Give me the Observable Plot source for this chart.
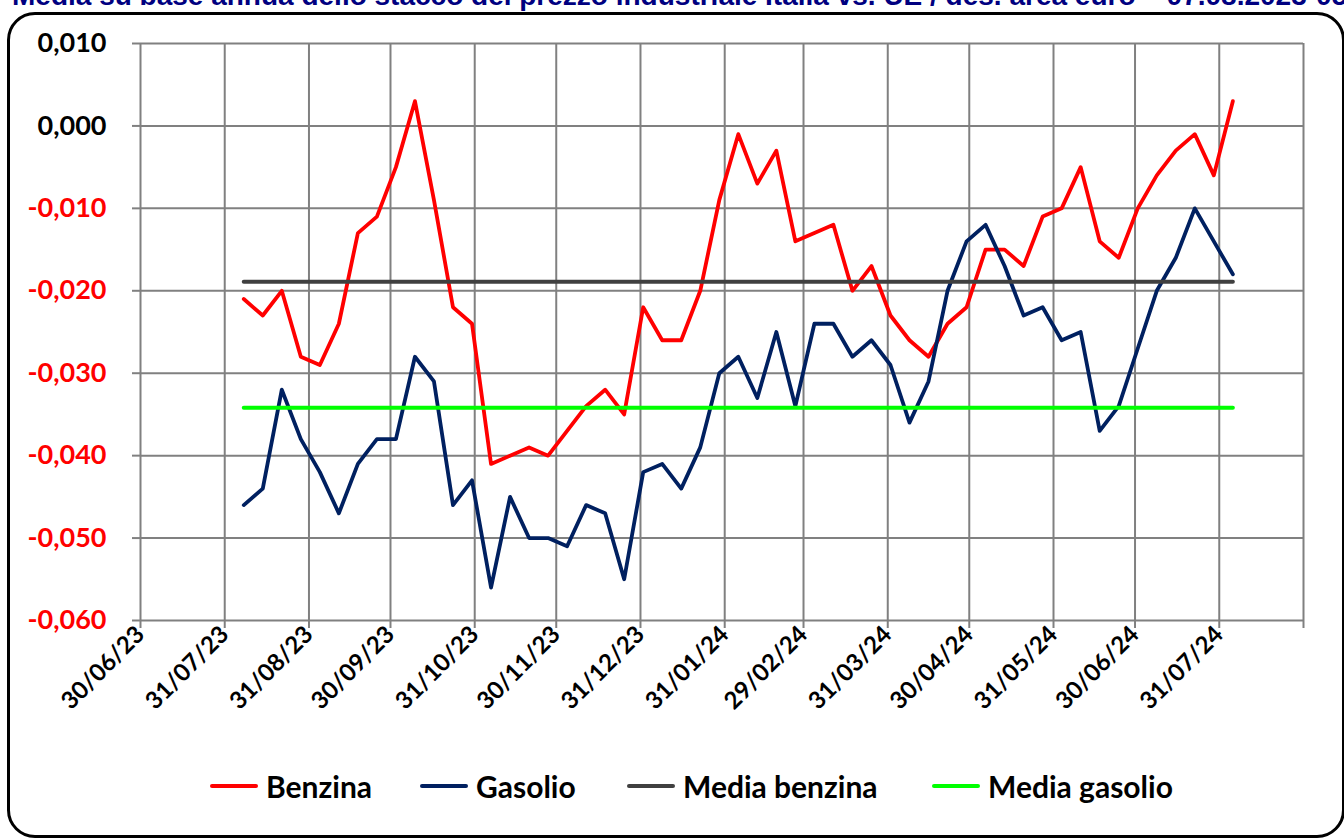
<!DOCTYPE html>
<html>
<head>
<meta charset="utf-8">
<script src="https://cdn.jsdelivr.net/npm/d3@7"></script>
<script src="https://cdn.jsdelivr.net/npm/@observablehq/plot@0.6"></script>
<style>
  html, body { margin: 0; padding: 0; background: #fff; }
  body { width: 1344px; height: 840px; overflow: hidden; position: relative; }
  #title { position: absolute; left: 12px; top: -18px; white-space: nowrap; font: bold 28px "Liberation Sans", Arial, sans-serif; color: #000080; line-height: 28px; }
  #frame { position: absolute; left: 7px; top: 12px; width: 1338px; height: 826px; border: 3px solid #000; border-radius: 28px; box-sizing: border-box; }
  #chart { position: absolute; left: 0; top: 0; }
  .item { position: absolute; top: 767px; height: 38px; display: flex; align-items: center; font: bold 30px Lato, sans-serif; color: #000; white-space: nowrap; }
  .sw { display: inline-block; width: 48px; height: 4px; margin-right: 8px; border-radius: 2px; }
</style>
</head>
<body>
<div id="title">Media su base annua dello stacco del prezzo industriale Italia vs. UE / des. area euro – 07.08.2023-05.08.2024</div>
<div id="frame"></div>
<div id="chart"></div>
<div id="legend"></div>
<script>
const dates = [
  "2023-08-07","2023-08-14","2023-08-21","2023-08-28","2023-09-04","2023-09-11","2023-09-18","2023-09-25",
  "2023-10-02","2023-10-09","2023-10-16","2023-10-23","2023-10-30","2023-11-06","2023-11-13","2023-11-20",
  "2023-11-27","2023-12-04","2023-12-11","2023-12-18","2023-12-25","2024-01-01","2024-01-08","2024-01-15",
  "2024-01-22","2024-01-29","2024-02-05","2024-02-12","2024-02-19","2024-02-26","2024-03-04","2024-03-11",
  "2024-03-18","2024-03-25","2024-04-01","2024-04-08","2024-04-15","2024-04-22","2024-04-29","2024-05-06",
  "2024-05-13","2024-05-20","2024-05-27","2024-06-03","2024-06-10","2024-06-17","2024-06-24","2024-07-01",
  "2024-07-08","2024-07-15","2024-07-22","2024-07-29","2024-08-05"
];
const benzina = [
  -0.021,-0.023,-0.020,-0.028,-0.029,-0.024,-0.013,-0.011,-0.005,0.003,
  -0.009,-0.022,-0.024,-0.041,-0.040,-0.039,-0.040,-0.037,-0.034,-0.032,
  -0.035,-0.022,-0.026,-0.026,-0.020,-0.009,-0.001,-0.007,-0.003,-0.014,
  -0.013,-0.012,-0.020,-0.017,-0.023,-0.026,-0.028,-0.024,-0.022,-0.015,
  -0.015,-0.017,-0.011,-0.010,-0.005,-0.014,-0.016,-0.010,-0.006,-0.003,
  -0.001,-0.006,0.003
];
const gasolio = [
  -0.046,-0.044,-0.032,-0.038,-0.042,-0.047,-0.041,-0.038,-0.038,-0.028,
  -0.031,-0.046,-0.043,-0.056,-0.045,-0.050,-0.050,-0.051,-0.046,-0.047,
  -0.055,-0.042,-0.041,-0.044,-0.039,-0.030,-0.028,-0.033,-0.025,-0.034,
  -0.024,-0.024,-0.028,-0.026,-0.029,-0.036,-0.031,-0.020,-0.014,-0.012,
  -0.017,-0.023,-0.022,-0.026,-0.025,-0.037,-0.034,-0.027,-0.020,-0.016,
  -0.010,-0.014,-0.018
];
const mediaBenzina = -0.0189;
const mediaGasolio = -0.0342;
const xTickDates = [
  "2023-06-30","2023-07-31","2023-08-31","2023-09-30","2023-10-31","2023-11-30","2023-12-31",
  "2024-01-31","2024-02-29","2024-03-31","2024-04-30","2024-05-31","2024-06-30","2024-07-31","2024-08-31"
];
const xLabelled = xTickDates.slice(0, 14);
const yTicks = [0.01, 0, -0.01, -0.02, -0.03, -0.04, -0.05, -0.06];
const seriesNames = ["Benzina", "Gasolio", "Media benzina", "Media gasolio"];
const seriesColors = ["#ff0000", "#002060", "#404040", "#00ff00"];

const rows = dates.map((d, i) => ({date: new Date(d), benzina: benzina[i], gasolio: gasolio[i]}));
const xTicks = xTickDates.map(d => new Date(d));
const labelledSet = new Set(xLabelled);
const fmtDate = d3.utcFormat("%d/%m/%y");
const isoDate = d3.utcFormat("%Y-%m-%d");
const fmtY = d => d3.format(".3f")(d).replace("−", "-").replace(".", ",");

const chart = Plot.plot({
  width: 1344,
  height: 720,
  marginLeft: 140,
  marginRight: 41,
  marginTop: 43,
  marginBottom: 100,
  style: {fontFamily: "Lato, sans-serif", fontWeight: "bold", color: "#000", background: "transparent", fontSize: "26px"},
  x: {type: "utc", domain: [xTicks[0], xTicks[xTicks.length - 1]]},
  y: {domain: [-0.06, 0.01]},
  color: {type: "identity"},
  marks: [
    Plot.gridX(xTicks, {stroke: "#808080", strokeOpacity: 1, strokeWidth: 2}),
    Plot.gridY(yTicks, {stroke: "#808080", strokeOpacity: 1, strokeWidth: 2}),
    Plot.axisY(yTicks, {tickSize: 8, tickPadding: 26, stroke: "#808080", strokeWidth: 2, tickFormat: fmtY,
      fill: d => d < 0 ? "#ff0000" : "#000000", fontSize: 27, label: null}),
    Plot.axisX(xTicks, {tickSize: 8, tickPadding: 2, stroke: "#808080", strokeWidth: 2, tickRotate: -45,
      tickFormat: d => labelledSet.has(isoDate(d)) ? fmtDate(d) : "", fontSize: 24, label: null}),
    Plot.lineY(rows, {x: "date", y: "benzina", stroke: seriesColors[0], strokeWidth: 3.8}),
    Plot.lineY(rows, {x: "date", y: "gasolio", stroke: seriesColors[1], strokeWidth: 3.8}),
    Plot.lineY(rows, {x: "date", y: () => mediaBenzina, stroke: seriesColors[2], strokeWidth: 4, strokeLinecap: "round"}),
    Plot.lineY(rows, {x: "date", y: () => mediaGasolio, stroke: seriesColors[3], strokeWidth: 4, strokeLinecap: "round"})
  ]
});
document.getElementById("chart").appendChild(chart);

const legendLeft = [210, 420, 627, 932];
const legend = document.getElementById("legend");
seriesNames.forEach((name, i) => {
  const item = document.createElement("div");
  item.className = "item";
  item.style.left = legendLeft[i] + "px";
  const sw = document.createElement("span");
  sw.className = "sw";
  sw.style.background = seriesColors[i];
  item.appendChild(sw);
  item.appendChild(document.createTextNode(name));
  legend.appendChild(item);
});
</script>
</body>
</html>
